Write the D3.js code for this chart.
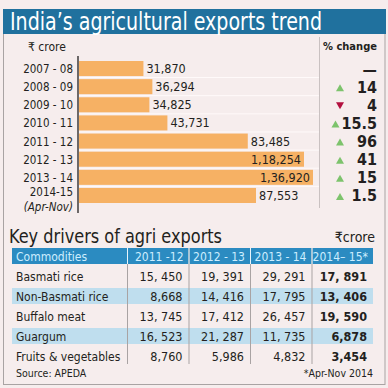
<!doctype html>
<html lang="en">
<head>
  <meta charset="utf-8">
  <title>India's agricultural exports trend</title>
  <script src="https://cdnjs.cloudflare.com/ajax/libs/d3/7.8.5/d3.min.js"></script>
  <style>
    body { margin: 0; background: #f6eded; }
    text { font-family: 'DejaVu Sans Condensed', 'Liberation Sans Narrow', sans-serif; }
  </style>
</head>
<body>
<svg width="388" height="388" id="svg"></svg>
<script>
// exports trend (Rs crore)
var years = ['2007 - 08','2008 - 09','2009 - 10','2010 - 11','2011 - 12','2012 - 13','2013 - 14','2014-15'];
var exportsVal = [31870, 36294, 34825, 43731, 83485, 118254, 136920, 87553];
var pctChange = [null, 14, -4, 15.5, 96, 41, 15, 1.5];

// key drivers table
var commodities = ['Basmati rice','Non-Basmati rice','Buffalo meat','Guargum','Fruits & vegetables'];
var tableYears = ['2011 -12','2012 - 13','2013 - 14','2014\u2013 15*'];
var basmati = [15450, 19391, 29291, 17891];
var nonBasmati = [8668, 14416, 17795, 13406];
var buffalo = [13745, 17412, 26457, 19590];
var guargum = [16523, 21287, 11735, 6878];
var fruitsVeg = [8760, 5986, 4832, 3454];
var tableRows = [basmati, nonBasmati, buffalo, guargum, fruitsVeg];

var svg = d3.select('#svg');
var dark = '#231f20';

// frame + title
svg.append('rect').attr('x',3.5).attr('y',9.5).attr('width',381.5).attr('height',375)
  .attr('fill','#f6eded').attr('stroke','#a9a3a3');
svg.append('rect').attr('x',3).attr('y',9).attr('width',383).attr('height',25).attr('fill','#20719e');
svg.append('text').attr('x',10).attr('y',29.5).attr('fill','#fff')
  .style('font-size','25px').attr('textLength',312).attr('lengthAdjust','spacingAndGlyphs')
  .text('India\u2019s agricultural exports trend');

// indian number format
function indian(v) {
  var s = String(v);
  if (s.length <= 3) return s;
  var last = s.slice(-3), rest = s.slice(0, -3);
  rest = rest.replace(/\B(?=(\d{2})+(?!\d))/g, ',');
  return rest + ',' + last;
}

var y = d3.scaleBand().domain(years).range([61, 203]).paddingInner(0.17);
// the original squeezes the two largest bars to fit before the % column
var x = d3.scaleLinear().domain([0, 87553, 118254, 136920]).range([79, 256, 304, 313]);

// row grid lines
svg.selectAll('.grid').data(years.slice(0, -1)).enter().append('line')
  .attr('x1',79).attr('x2',319)
  .attr('y1',function(d){ return y(d) + y.bandwidth() + 1.5; })
  .attr('y2',function(d){ return y(d) + y.bandwidth() + 1.5; })
  .attr('stroke','#fffafa').attr('stroke-width',1);

svg.selectAll('.bar').data(exportsVal).enter().append('rect')
  .attr('x',x(0))
  .attr('y',function(d,i){ return y(years[i]); })
  .attr('width',function(d){ return x(d) - x(0); })
  .attr('height',y.bandwidth())
  .attr('fill','#f6b164');

svg.selectAll('.val').data(exportsVal).enter().append('text')
  .attr('x',function(d){ return d > 100000 ? x(d) - 3 : x(d) + 3; })
  .attr('y',function(d,i){ return y(years[i]) + y.bandwidth()/2 + 4.5; })
  .attr('text-anchor',function(d){ return d > 100000 ? 'end' : 'start'; })
  .attr('fill',dark).style('font-size','12.5px')
  .text(function(d){ return indian(d); });

// axis line and divider
svg.append('line').attr('x1',78).attr('x2',78).attr('y1',56).attr('y2',213)
  .attr('stroke',dark).attr('stroke-width',1.3);
svg.append('line').attr('x1',319.5).attr('x2',319.5).attr('y1',37).attr('y2',208)
  .attr('stroke','#c9c1c1').attr('stroke-width',1);

// year labels
svg.selectAll('.yl').data(years).enter().append('text')
  .attr('x',73)
  .attr('y',function(d,i){ return y(d) + y.bandwidth()/2 + 4.5 - (i === years.length - 1 ? 3.5 : 0); })
  .attr('text-anchor','end').attr('fill',dark).style('font-size','11.5px')
  .text(function(d){ return d; });
svg.append('text').attr('x',73).attr('y',210.5).attr('text-anchor','end')
  .attr('fill',dark).style('font-size','11.5px').style('font-style','italic').text('(Apr-Nov)');

svg.append('text').attr('x',28).attr('y',51).attr('fill',dark).style('font-size','12px').text('\u20b9 crore');
svg.append('text').attr('x',323).attr('y',50).attr('fill',dark).style('font-size','11px')
  .style('font-weight','bold').attr('textLength',54).attr('lengthAdjust','spacingAndGlyphs').text('% change');

// % change column
pctChange.forEach(function(p, i) {
  var cy = y(years[i]) + y.bandwidth()/2;
  var t = svg.append('text').attr('x',377).attr('y',cy + 6).attr('text-anchor','end')
    .attr('fill',dark).style('font-size','16px').style('font-weight','bold')
    .text(p === null ? '\u2014' : Math.abs(p));
  if (p === null) return;
  var start = t.node().getBBox().x;
  var tx = Math.min(340, start - 6);
  var up = p >= 0;
  var tri = up ? [[tx-4, cy+4.5],[tx+4, cy+4.5],[tx, cy-2.5]] : [[tx-4, cy-2.5],[tx+4, cy-2.5],[tx, cy+4.5]];
  svg.append('path').attr('d', d3.line()(tri) + 'Z')
    .attr('fill', up ? '#7dc36c' : '#b3103f');
});

// key drivers section
svg.append('text').attr('x',9).attr('y',243).attr('fill',dark).style('font-size','20px')
  .attr('textLength',213).attr('lengthAdjust','spacingAndGlyphs').text('Key drivers of agri exports');
svg.append('text').attr('x',375).attr('y',242).attr('text-anchor','end').attr('fill',dark)
  .style('font-size','14px').text('\u20b9crore');

var cols = d3.scaleBand().domain(tableYears).range([127, 373]);
var rows = d3.scaleBand().domain(commodities).range([266, 366]);

svg.append('rect').attr('x',12).attr('y',248).attr('width',361).attr('height',16).attr('fill','#2b8bc1');
svg.selectAll('.hl').data(commodities.filter(function(d,i){ return i % 2 === 1; })).enter().append('rect')
  .attr('x',12).attr('width',361)
  .attr('y',function(d){ return rows(d) + 2; })
  .attr('height',rows.bandwidth() - 4)
  .attr('fill','#bfdeee');

// column dividers
svg.selectAll('.cd').data(tableYears).enter().append('line')
  .attr('x1',function(d){ return cols(d) + 0.5; })
  .attr('x2',function(d){ return cols(d) + 0.5; })
  .attr('y1',248).attr('y2',364)
  .attr('stroke','#a9a3a3').attr('stroke-width',1);
svg.selectAll('.cdh').data(tableYears).enter().append('line')
  .attr('x1',function(d){ return cols(d) + 0.5; })
  .attr('x2',function(d){ return cols(d) + 0.5; })
  .attr('y1',248).attr('y2',264)
  .attr('stroke','#e8f4fb').attr('stroke-width',1);

svg.append('text').attr('x',16).attr('y',260.5).attr('fill','#cdeeff').style('font-size','12px').text('Commodities');
svg.selectAll('.ch').data(tableYears).enter().append('text')
  .attr('x',function(d){ return cols(d) + cols.bandwidth() - 5; })
  .attr('y',260.5).attr('text-anchor','end').attr('fill','#cdeeff').style('font-size','12px')
  .text(function(d){ return d; });

function tfmt(v) {
  var s = d3.format(',')(v);
  return v >= 10000 ? s.replace(',', ', ') : s;
}

svg.selectAll('.rn').data(commodities).enter().append('text')
  .attr('x',16).attr('y',function(d){ return rows(d) + rows.bandwidth()/2 + 4.5; })
  .attr('fill',dark).style('font-size','12px').text(function(d){ return d; });

tableRows.forEach(function(r, i) {
  svg.selectAll('.c' + i).data(r).enter().append('text')
    .attr('x',function(d,j){ return cols(tableYears[j]) + cols.bandwidth() - 6; })
    .attr('y',rows(commodities[i]) + rows.bandwidth()/2 + 4.5)
    .attr('text-anchor','end').attr('fill',dark).style('font-size','12.5px')
    .style('font-weight',function(d,j){ return j === 3 ? 'bold' : 'normal'; })
    .text(function(d){ return tfmt(d); });
});

svg.append('text').attr('x',16).attr('y',377).attr('fill',dark).style('font-size','10.5px').text('Source: APEDA');
svg.append('text').attr('x',373).attr('y',377).attr('text-anchor','end').attr('fill',dark)
  .style('font-size','10.5px').text('*Apr-Nov 2014');
</script>
</body>
</html>
